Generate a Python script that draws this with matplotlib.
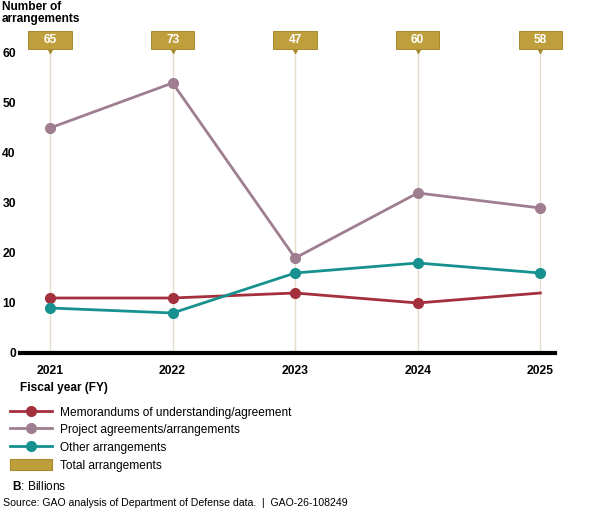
import matplotlib
matplotlib.use("Agg")
import matplotlib.pyplot as plt
from matplotlib.lines import Line2D
from matplotlib.patches import Patch, Rectangle
import matplotlib.transforms as mtransforms

plt.rcParams['font.family'] = ['Liberation Sans', 'DejaVu Sans']
plt.rcParams['mathtext.fontset'] = 'custom'
plt.rcParams['mathtext.bf'] = 'Liberation Sans:bold'
plt.rcParams['mathtext.rm'] = 'Liberation Sans'

# data
years = [2021, 2022, 2023, 2024, 2025]
memorandums = [11, 11, 12, 10, 12]
projects = [45, 54, 19, 32, 29]
other = [9, 8, 16, 18, 16]
totals = [65, 73, 47, 60, 58]
y_ticks = [0, 10, 20, 30, 40, 50, 60]

RED = "#A3303C"
MAUVE = "#9E7E90"
TEAL = "#17918F"
GOLD = "#BF9F3C"
GOLD_EDGE = "#A88A2E"
GRID = "#E6DCCB"


def draw():
    fig = plt.figure(figsize=(6, 5.11), dpi=100)
    ax = fig.add_axes([0.0333, 0.3092, 0.8917, 0.6067])
    ax.set_xlim(2020.755, 2025.12)
    ax.set_ylim(0, 62)

    # light vertical lines under each year
    for yr in years:
        ax.plot([yr, yr], [0, 63], color=GRID, lw=1, zorder=1, clip_on=False)

    ax.plot(years[:-1], memorandums[:-1], color=RED, lw=2, marker='o', ms=7, zorder=3)
    ax.plot(years[-2:], memorandums[-2:], color=RED, lw=2, zorder=3)
    ax.plot(years, projects, color=MAUVE, lw=2, marker='o', ms=7, zorder=3)
    ax.plot(years, other, color=TEAL, lw=2, marker='o', ms=7, zorder=3)

    # total labels above the plot
    trans = mtransforms.blended_transform_factory(ax.transData, fig.transFigure)
    box_w = 0.355
    for yr, t in zip(years, totals):
        ax.plot([yr], [1 - 50 / 511], transform=trans, marker='v', ms=5, color=GOLD_EDGE,
                clip_on=False, zorder=4)
        ax.add_patch(Rectangle((yr - box_w / 2, 1 - 49 / 511), box_w, 18 / 511,
                               transform=trans, fc=GOLD, ec=GOLD_EDGE, lw=0.7,
                               clip_on=False, zorder=4))
        ax.text(yr, 1 - 40 / 511, str(t), transform=trans, ha='center', va='center',
                color='white', fontsize=8.6, fontweight='bold', zorder=5)

    for s in ['top', 'right', 'left']:
        ax.spines[s].set_visible(False)
    ax.spines['bottom'].set_linewidth(3)
    ax.spines['bottom'].set_color('black')

    ax.set_yticks(y_ticks)
    ax.set_yticklabels([str(v) for v in y_ticks], fontweight='bold', fontsize=8.7)
    ax.tick_params(axis='y', length=0, pad=3)
    ax.set_xticks(years)
    ax.set_xticklabels([str(y) for y in years], fontweight='bold', fontsize=8.7)
    ax.tick_params(axis='x', length=0, pad=9)

    fig.text(2 / 600, 1 - 1 / 511, "Number of\narrangements", ha='left', va='top',
             fontsize=8.6, fontweight='bold', linespacing=1.05)
    fig.text(20 / 600, 1 - 388 / 511, "Fiscal year (FY)", ha='left', va='center',
             fontsize=8.6, fontweight='bold')

    handles = [
        Line2D([], [], color=RED, lw=2, marker='o', ms=7),
        Line2D([], [], color=MAUVE, lw=2, marker='o', ms=7),
        Line2D([], [], color=TEAL, lw=2, marker='o', ms=7),
        Patch(fc=GOLD, ec=GOLD_EDGE, lw=0.8),
    ]
    labels = ["Memorandums of understanding/agreement", "Project agreements/arrangements",
              "Other arrangements", "Total arrangements"]
    fig.legend(handles, labels, loc='upper left', bbox_to_anchor=(10 / 600, 1 - 406 / 511),
               frameon=False, fontsize=8.6, handlelength=3.5, handleheight=1.1,
               handletextpad=0.65, labelspacing=0.4, borderaxespad=0, borderpad=0)

    fig.text(12 / 600, 1 - 486 / 511, r"$\mathbf{B}$: Billions", ha='left', va='center',
             fontsize=8.6)
    fig.text(3 / 600, 1 - 503 / 511,
             "Source: GAO analysis of Department of Defense data.  |  GAO-26-108249",
             ha='left', va='center', fontsize=7.6)

    fig.savefig("out.png", dpi=100)


def main():
    draw()


if __name__ == '__main__':
    main()
